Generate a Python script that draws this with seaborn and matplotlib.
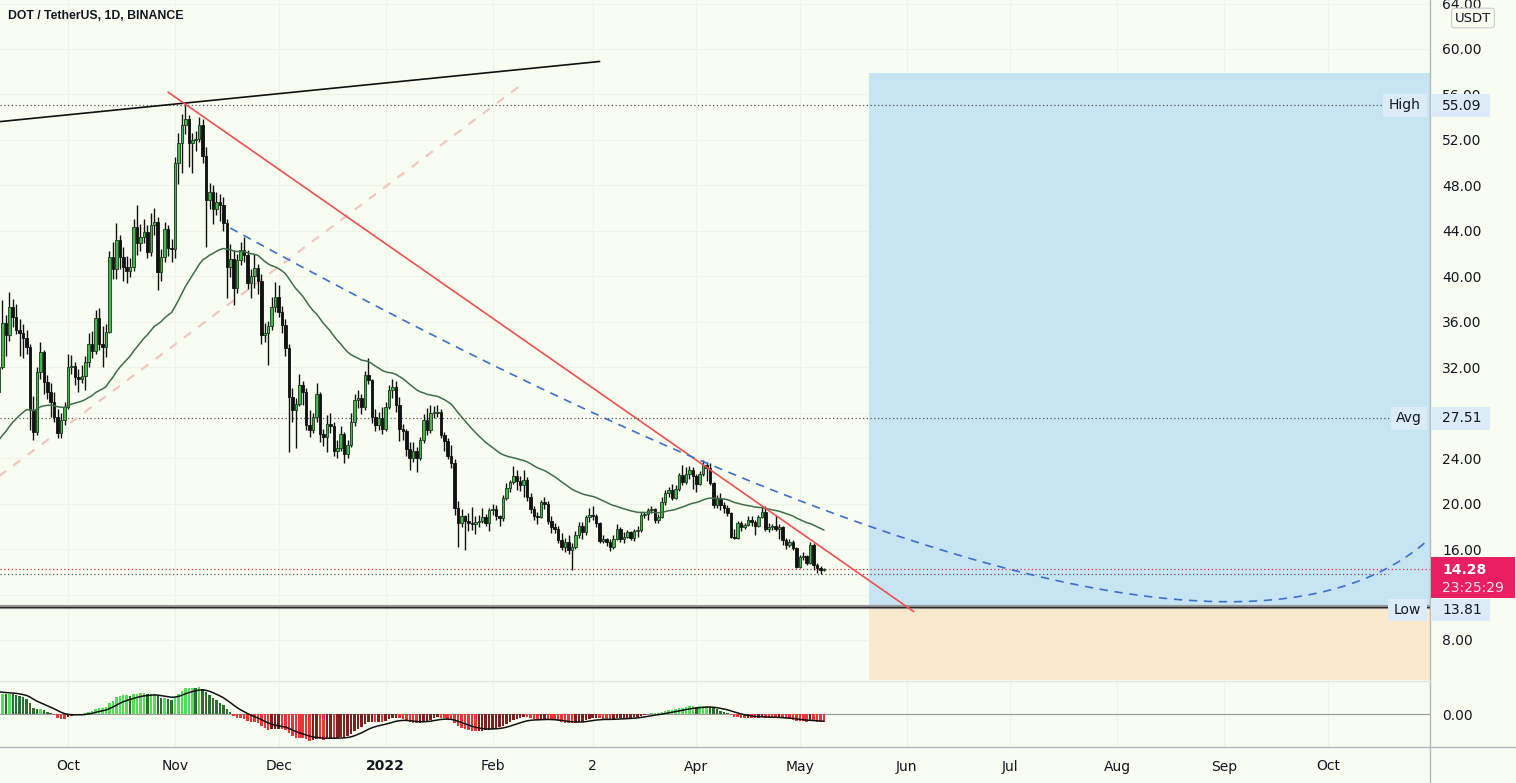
import numpy as np
import pandas as pd
import matplotlib
matplotlib.use("Agg")
import matplotlib.pyplot as plt
from matplotlib.patches import Rectangle
from matplotlib.lines import Line2D
import seaborn as sns

# ---------------- data (daily DOT/USDT candles, 2021-09-11 .. 2022-05-08) ----------------
start_date = "2021-09-11"
first_open = 29.8

sep_c = [32.0, 35.9, 34.8, 37.3, 36.4, 35.3, 35.0, 34.6, 33.8, 28.2, 26.3, 31.6, 33.3, 30.7, 29.8, 28.9, 27.6, 26.2, 27.4, 28.5]
sep_h = [33.0, 37.9, 36.6, 38.6, 38.0, 37.6, 36.2, 35.8, 35.3, 34.0, 29.5, 32.0, 34.2, 33.5, 31.3, 30.6, 29.8, 28.3, 28.0, 28.9]
sep_l = [29.5, 31.8, 33.0, 34.3, 35.5, 34.9, 33.0, 32.8, 33.2, 26.5, 25.6, 26.0, 31.0, 29.6, 29.2, 27.6, 27.2, 25.8, 25.8, 26.9]

oct_c = [32.0, 32.1, 31.1, 31.0, 31.2, 32.5, 34.0, 33.4, 36.3, 34.0, 33.8, 35.1, 41.7, 40.6, 43.2, 41.7, 40.8, 40.5, 40.8, 44.3, 42.9, 43.5, 43.9, 42.1, 44.5, 44.8, 40.4, 41.7, 44.2, 42.5, 42.4]
oct_h = [33.2, 33.1, 32.5, 31.8, 32.2, 33.0, 35.0, 35.2, 37.0, 37.2, 35.6, 35.8, 42.2, 43.0, 44.7, 43.6, 42.6, 41.8, 41.6, 45.0, 46.3, 44.6, 45.0, 44.5, 45.6, 46.0, 45.2, 42.4, 44.8, 44.5, 43.3]
oct_l = [28.3, 31.4, 30.4, 29.8, 30.6, 30.0, 32.0, 32.8, 33.2, 33.5, 32.0, 32.9, 35.0, 39.8, 39.8, 40.6, 39.6, 39.4, 39.9, 40.5, 41.9, 42.2, 42.9, 41.6, 41.8, 43.6, 38.8, 39.6, 41.3, 41.8, 41.3]

nov_c = [50.0, 51.7, 53.3, 53.8, 51.7, 52.0, 52.1, 53.3, 50.6, 46.7, 47.4, 45.9, 46.5, 46.3, 44.7, 40.8, 41.5, 39.0, 41.4, 42.3, 41.9, 39.4, 40.0, 40.7, 39.6, 34.8, 35.0, 35.6, 37.3, 38.2]
nov_h = [50.5, 52.6, 54.3, 55.09, 54.2, 52.6, 52.8, 54.0, 53.8, 51.4, 48.2, 48.0, 47.4, 47.2, 47.0, 45.0, 42.8, 42.3, 42.0, 43.0, 43.5, 42.3, 40.6, 42.0, 41.1, 40.2, 35.9, 36.1, 38.2, 39.5]
nov_l = [41.6, 48.1, 49.1, 52.5, 49.6, 49.1, 51.0, 51.8, 50.0, 42.6, 45.9, 44.6, 45.4, 44.9, 44.0, 38.1, 39.9, 37.5, 38.5, 41.0, 41.3, 38.9, 38.1, 39.0, 38.4, 34.0, 34.2, 32.2, 35.3, 36.9]

dec_c = [36.9, 35.7, 33.7, 29.4, 28.2, 28.8, 30.4, 29.8, 26.9, 26.5, 27.6, 29.6, 26.1, 25.9, 27.0, 26.8, 24.6, 24.9, 26.1, 24.4, 25.2, 27.2, 29.1, 29.3, 28.5, 31.3, 30.9, 27.6, 26.9, 27.5, 26.6]
dec_h = [39.2, 37.4, 36.2, 34.0, 30.2, 29.3, 31.4, 30.8, 30.2, 28.2, 28.0, 30.6, 29.8, 26.6, 27.8, 28.0, 27.2, 25.6, 26.8, 26.3, 25.6, 28.0, 29.6, 30.0, 29.6, 31.7, 32.8, 31.0, 28.3, 28.1, 28.5]
dec_l = [36.4, 35.0, 33.0, 24.5, 27.2, 24.9, 28.6, 28.7, 26.5, 25.9, 26.2, 27.2, 25.4, 25.1, 24.5, 26.2, 24.2, 24.0, 24.6, 23.6, 24.0, 25.0, 26.8, 28.4, 27.9, 28.2, 30.5, 27.1, 26.4, 26.5, 26.1]

jan_c = [28.5, 30.0, 30.3, 28.7, 26.6, 26.4, 24.8, 24.0, 24.6, 24.0, 25.6, 27.4, 26.5, 28.0, 28.0, 28.1, 26.0, 25.5, 24.2, 23.6, 19.6, 18.3, 18.9, 18.5, 18.3, 18.2, 18.4, 18.5, 18.8, 18.3, 19.4]
jan_h = [28.9, 30.4, 31.0, 30.8, 29.4, 27.0, 26.6, 25.4, 25.4, 25.0, 25.9, 27.9, 28.4, 28.7, 28.6, 28.7, 28.3, 26.3, 25.8, 25.2, 23.9, 20.2, 19.5, 19.0, 19.2, 19.7, 18.9, 19.0, 19.6, 19.1, 19.6]
jan_l = [26.4, 28.3, 29.3, 28.1, 25.5, 25.6, 24.2, 23.0, 23.7, 22.8, 23.8, 25.3, 26.0, 26.2, 27.5, 27.6, 25.8, 24.6, 23.9, 23.1, 19.0, 16.2, 17.9, 15.9, 17.6, 17.7, 17.3, 17.9, 18.3, 18.0, 17.6]

feb_c = [19.5, 18.9, 18.7, 20.5, 21.4, 21.9, 22.4, 22.0, 21.6, 22.1, 20.6, 19.5, 18.9, 18.8, 20.1, 20.0, 18.5, 17.9, 17.8, 16.8, 16.2, 16.6, 15.9, 16.2, 17.2, 18.0, 17.5, 18.8]
feb_h = [20.0, 19.9, 19.0, 20.8, 21.8, 22.1, 23.3, 23.0, 22.4, 23.0, 22.3, 20.9, 19.8, 19.3, 20.3, 20.6, 20.2, 18.9, 18.3, 18.0, 17.4, 17.0, 17.2, 16.5, 17.6, 18.4, 18.4, 19.0]
feb_l = [19.0, 18.6, 18.0, 18.5, 20.3, 21.0, 21.7, 21.2, 21.1, 20.6, 20.2, 19.2, 18.6, 18.2, 18.7, 19.5, 18.2, 17.4, 17.4, 16.5, 15.9, 15.7, 15.6, 14.2, 16.0, 17.0, 16.9, 17.2]

mar_c = [19.0, 18.9, 18.3, 16.7, 16.9, 16.6, 16.2, 16.9, 17.8, 16.9, 17.1, 17.5, 17.0, 17.6, 17.7, 19.0, 19.1, 19.4, 19.5, 18.6, 18.8, 20.1, 20.9, 21.2, 20.5, 21.3, 22.5, 21.9, 22.6, 23.0, 22.4]
mar_h = [19.6, 19.8, 19.1, 18.4, 17.2, 17.0, 16.9, 17.2, 18.2, 17.9, 17.5, 17.7, 17.6, 17.8, 18.0, 19.3, 19.3, 19.6, 19.8, 19.6, 19.1, 20.6, 21.2, 21.5, 21.7, 21.6, 22.7, 23.4, 23.2, 23.3, 23.2]
mar_l = [18.4, 18.6, 17.9, 16.5, 16.5, 16.3, 15.8, 16.0, 16.8, 16.6, 16.5, 17.0, 16.8, 16.7, 17.1, 17.5, 18.7, 18.6, 19.2, 18.3, 18.3, 18.7, 19.9, 20.6, 20.3, 20.4, 21.1, 21.6, 21.7, 22.2, 21.3]

apr_c = [21.7, 22.6, 23.4, 23.1, 21.8, 19.9, 20.4, 19.9, 19.6, 19.2, 17.1, 17.0, 18.3, 17.9, 18.1, 18.6, 18.4, 18.0, 18.8, 19.3, 17.8, 17.9, 18.0, 17.8, 17.9, 16.8, 16.4, 16.6, 16.1, 14.45]
apr_h = [22.6, 22.9, 23.8, 23.7, 23.6, 21.9, 20.8, 20.9, 20.1, 19.9, 19.3, 17.8, 18.5, 18.5, 18.3, 18.9, 18.9, 18.6, 19.0, 19.7, 19.8, 18.3, 18.2, 18.9, 18.2, 18.0, 17.0, 16.9, 16.8, 16.2]
apr_l = [21.0, 21.6, 22.4, 22.0, 21.6, 19.6, 19.6, 19.4, 19.2, 18.9, 17.0, 16.9, 16.9, 17.6, 17.8, 18.0, 18.0, 17.2, 17.9, 18.7, 17.6, 17.5, 17.7, 17.6, 16.9, 16.4, 16.0, 16.2, 15.9, 14.3]

may_c = [15.3, 15.35, 14.8, 16.36, 14.6, 14.3, 14.2, 14.28]
may_h = [15.5, 15.7, 15.5, 16.6, 16.5, 14.8, 14.5, 14.35]
may_l = [14.3, 15.0, 14.6, 14.7, 14.2, 13.9, 13.81, 14.1]

ema50_start = 25.6
ema12_start = 32.6
ema26_start = 29.6
signal_start = 3.3

# price levels / labels
high_level = 55.09
avg_level = 27.51
low_level = 13.81
last_price = 14.28
price_ticks = [8, 16, 20, 24, 28, 32, 36, 40, 44, 48, 52, 56, 60, 64]
month_dates = ["2021-10-01", "2021-11-01", "2021-12-01", "2022-01-01", "2022-02-01", "2022-03-02",
               "2022-04-01", "2022-05-01", "2022-06-01", "2022-07-01", "2022-08-01", "2022-09-01", "2022-10-01"]
month_labels = ["Oct", "Nov", "Dec", "2022", "Feb", "2", "Apr", "May", "Jun", "Jul", "Aug", "Sep", "Oct"]

# drawing anchors (date, price)
black_trend = [("2021-09-11", 53.6), ("2022-03-04", 58.9)]
red_trend = [("2021-10-30", 56.2), ("2022-06-03", 10.5)]
pink_trend = [("2021-09-11", 22.4), ("2022-02-10", 57.0)]
blue_curve = [("2021-11-17", 44.25), ("2022-08-21", -2.0), ("2022-10-30", 16.8)]
box_start = "2022-05-21"
box_top, box_entry = 57.9, 10.9

# ---------------- build series ----------------
close = np.array(sep_c + oct_c + nov_c + dec_c + jan_c + feb_c + mar_c + apr_c + may_c)
high = np.array(sep_h + oct_h + nov_h + dec_h + jan_h + feb_h + mar_h + apr_h + may_h)
low = np.array(sep_l + oct_l + nov_l + dec_l + jan_l + feb_l + mar_l + apr_l + may_l)
opn = np.concatenate([[first_open], close[:-1]])
high = np.maximum(high, np.maximum(opn, close))
low = np.minimum(low, np.minimum(opn, close))

ref = pd.Timestamp("2021-10-01")
def dx(d):
    return float((pd.Timestamp(d) - ref).days)

dates = pd.date_range(start_date, periods=len(close), freq="D")
x = np.array([(d - ref).days for d in dates], dtype=float)

def ema(values, start, n):
    a = 2.0 / (n + 1)
    out = [start]
    for v in values[1:]:
        out.append(out[-1] + a * (v - out[-1]))
    return np.array(out)

ema50 = ema(close, ema50_start, 50)
e12 = ema(close, ema12_start, 12)
e26 = ema(close, ema26_start, 26)
macd = e12 - e26
sig = ema(macd, signal_start, 9)
sig[0] = signal_start

# ---------------- figure ----------------
sns.set_theme(style="white")
plt.rcParams['font.family'] = ['DejaVu Sans']
BG = '#f8fdf1'
TXT = '#131722'
W, H = 1516, 783
fig = plt.figure(figsize=(W / 100, H / 100), dpi=100, facecolor=BG)

def fx(px):
    return px / W

def fy(py):
    return 1 - py / H

PXD = 1260 / 365.0            # pixels per day
XL = -68 / PXD
XR = (1430 - 68) / PXD
def xday(px):
    return (px - 68) / PXD

ax = fig.add_axes([0, fy(680), fx(1430), fy(0) - fy(680)], facecolor=BG)
axm = fig.add_axes([0, fy(747), fx(1430), fy(680) - fy(747)], facecolor=BG)
for a in (ax, axm):
    a.set_xlim(XL, XR)
    for s in a.spines.values():
        s.set_visible(False)
ax.set_ylim(4.48, 64.31)

# grid
for v in price_ticks + [12]:
    ax.axhline(v, color='#eff3e8', lw=0.8, zorder=0)
tick_x = [dx(d) for d in month_dates]
for t in tick_x:
    ax.axvline(t, color='#eff3e8', lw=0.8, zorder=0)
    axm.axvline(t, color='#eff3e8', lw=0.8, zorder=0)

# position boxes
bx0 = dx(box_start)
ax.add_patch(Rectangle((bx0, box_entry), XR - bx0, box_top - box_entry, facecolor='#c7e4f2', edgecolor='none', zorder=1))
ax.add_patch(Rectangle((bx0, 4.48), XR - bx0, box_entry - 4.48, facecolor='#faeacd', edgecolor='none', zorder=1))
ax.axhline(box_entry, color='#9a9a9a', lw=3.0, zorder=2)
ax.axhline(box_entry, color='#2a2a2a', lw=0.9, zorder=2)

# level lines
ax.hlines(high_level, XL, xday(1383), colors='#555555', linestyles=(0, (1, 2)), lw=0.9, zorder=2)
ax.hlines(avg_level, XL, xday(1391), colors='#555555', linestyles=(0, (1, 2)), lw=0.9, zorder=2)
ax.hlines(low_level, XL, xday(1388), colors='#555555', linestyles=(0, (1, 2)), lw=0.9, zorder=2)
ax.hlines(last_price, XL, XR, colors='#e0304a', linestyles=(0, (1, 2)), lw=0.9, zorder=2)

# drawings
def seg(points):
    return [dx(p[0]) for p in points], [p[1] for p in points]

px_, py_ = seg(pink_trend)
ax.plot(px_, py_, color='#f2c6bd', lw=1.6, ls=(0, (4, 4)), zorder=2)
bx_, by_ = seg(black_trend)
ax.plot(bx_, by_, color='#111111', lw=1.2, zorder=5)
rx_, ry_ = seg(red_trend)
ax.plot(rx_, ry_, color='#f05050', lw=1.2, zorder=5)
cx_, cy_ = seg(blue_curve)
t = np.linspace(0, 1, 400)
bez_x = (1 - t) ** 2 * cx_[0] + 2 * t * (1 - t) * cx_[1] + t ** 2 * cx_[2]
bez_y = (1 - t) ** 2 * cy_[0] + 2 * t * (1 - t) * cy_[1] + t ** 2 * cy_[2]
ax.plot(bez_x, bez_y, color='#3d6fd0', lw=1.2, ls=(0, (5, 4)), zorder=5)

# candles
up = close >= opn
body_h = np.maximum(np.abs(close - opn), 0.08)
ax.vlines(x, low, high, color='#111111', lw=1.0, zorder=3)
ax.bar(x[up], body_h[up], bottom=opn[up], width=0.74, color='#47b44e', edgecolor='#173a1b', lw=0.6, zorder=4)
ax.bar(x[~up], body_h[~up], bottom=close[~up], width=0.74, color='#111111', edgecolor='#111111', lw=0.6, zorder=4)

# moving average
sns.lineplot(x=x, y=ema50, ax=ax, color='#3f6e48', lw=1.1, zorder=4)

# MACD pane
diff = np.diff(np.concatenate([[macd[0]], macd]))
cols = []
for v, d in zip(macd, diff):
    if v >= 0:
        cols.append('#4fe055' if d >= 0 else '#2c6e31')
    else:
        cols.append('#ee3434' if d < 0 else '#7e2020')
axm.bar(x, macd, width=0.72, color=cols, lw=0, zorder=2)
sns.lineplot(x=x, y=sig, ax=axm, color='#111111', lw=1.1, zorder=3)
axm.axhline(0, color='#9a9a9a', lw=0.8, zorder=1)
sc = 26.7 / np.max(np.abs(macd))
axm.set_ylim(-33 / sc, 34 / sc)

# axes ticks
ax.yaxis.tick_right()
ax.set_yticks(price_ticks)
ax.set_yticklabels([f"{v:.2f}" for v in price_ticks])
ax.tick_params(axis='y', length=0, pad=8.6, labelsize=10, labelcolor=TXT)
ax.set_xticks([])
ax.set_ylabel('')
axm.yaxis.tick_right()
axm.set_yticks([0])
axm.set_yticklabels(["0.00"])
axm.tick_params(axis='y', length=0, pad=8.6, labelsize=10, labelcolor=TXT)
axm.set_xticks(tick_x)
axm.set_xticklabels(month_labels)
axm.tick_params(axis='x', length=0, pad=9, labelsize=10, labelcolor=TXT)
for lab in axm.get_xticklabels():
    if lab.get_text() == "2022":
        lab.set_fontweight('bold')
axm.set_ylabel('')

# separators
fig.add_artist(Line2D([fx(1430), fx(1430)], [0, 1], color='#b5b8bf', lw=1.0))
fig.add_artist(Line2D([0, 1], [fy(747), fy(747)], color='#b5b8bf', lw=1.0))
fig.add_artist(Line2D([0, fx(1430)], [fy(680.5), fy(680.5)], color='#e6e8e0', lw=1.0))

# title
fig.text(fx(8), fy(16), "DOT / TetherUS, 1D, BINANCE", fontsize=8.8, fontweight='bold', color=TXT,
         va='center', ha='left', family=['Liberation Sans', 'DejaVu Sans'])

# right-hand labels
def fbox(x0, y0, x1, y1, color, ec='none', z=10):
    fig.add_artist(Rectangle((fx(x0), fy(y1)), fx(x1) - fx(x0), fy(y0) - fy(y1), transform=fig.transFigure,
                             facecolor=color, edgecolor=ec, lw=0.8, zorder=z))

LB = '#dcebf8'
fbox(1383, 94, 1427, 117, LB)
fig.text(fx(1405), fy(105.5), "High", fontsize=10, color=TXT, ha='center', va='center', zorder=11)
fbox(1432, 94, 1490, 117, LB)
fig.text(fx(1442), fy(105.5), f"{high_level:.2f}", fontsize=10, color=TXT, ha='left', va='center', zorder=11)

fbox(1391, 407, 1427, 430, LB)
fig.text(fx(1409), fy(418.5), "Avg", fontsize=10, color=TXT, ha='center', va='center', zorder=11)
fbox(1432, 407, 1490, 430, LB)
fig.text(fx(1442), fy(418.5), f"{avg_level:.2f}", fontsize=10, color=TXT, ha='left', va='center', zorder=11)

fbox(1388, 599, 1427, 621, LB)
fig.text(fx(1407), fy(610), "Low", fontsize=10, color=TXT, ha='center', va='center', zorder=11)
fbox(1432, 599, 1490, 621, LB)
fig.text(fx(1442), fy(610), f"{low_level:.2f}", fontsize=10, color=TXT, ha='left', va='center', zorder=11)

fbox(1431, 557, 1515, 598, '#e91e63')
fig.text(fx(1442), fy(569.5), f"{last_price:.2f}", fontsize=10, fontweight='bold', color='white', ha='left', va='center', zorder=11)
fig.text(fx(1442), fy(587.5), "23:25:29", fontsize=10, color='#fde3ec', ha='left', va='center', zorder=11)

fig.text(fx(1473), fy(18), "USDT", fontsize=9.5, color=TXT, ha='center', va='center', zorder=11,
         bbox=dict(boxstyle='round,pad=0.25,rounding_size=0.2', facecolor=BG, edgecolor='#c9ccd2', lw=0.8))

fig.savefig("out.png", dpi=100, facecolor=BG)
